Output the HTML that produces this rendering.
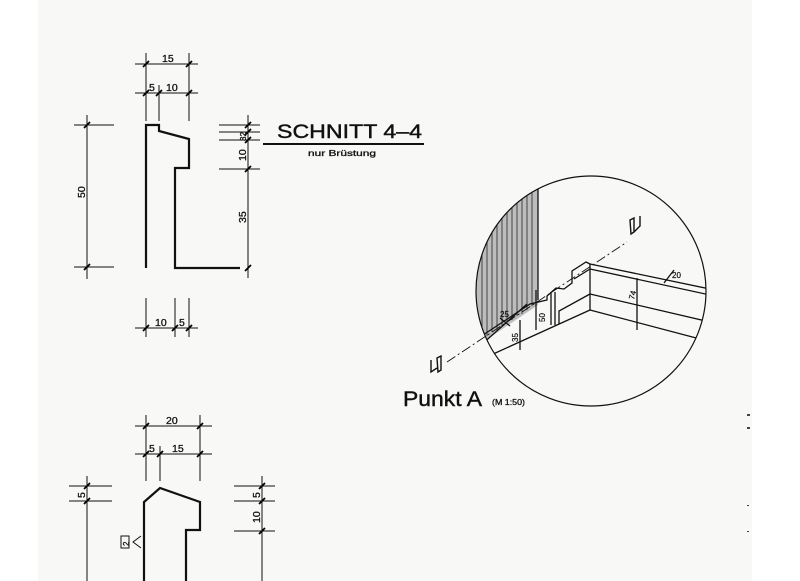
<!DOCTYPE html>
<html><head><meta charset="utf-8"><style>
html,body{margin:0;padding:0;background:#fff}
svg{display:block}
text{font-family:"Liberation Sans",sans-serif;fill:#111}
</style></head><body>
<svg width="800" height="581" viewBox="0 0 800 581" xmlns="http://www.w3.org/2000/svg">
<defs>
<clipPath id="cc"><circle cx="591" cy="291" r="115"/></clipPath>
<g id="tick"><line x1="-3" y1="3" x2="3" y2="-3" stroke="#000" stroke-width="1.8"/></g>
</defs>
<rect x="0" y="0" width="800" height="581" fill="#fff"/>
<rect x="38" y="0" width="714" height="581" fill="#f8f8f7"/>
<g stroke="#111" fill="none" stroke-width="1">
<line x1="135" y1="64" x2="198" y2="64"/>
<line x1="135" y1="93" x2="198" y2="93"/>
<line x1="146" y1="53" x2="146" y2="121"/>
<line x1="159" y1="85" x2="159" y2="121"/>
<line x1="189" y1="53" x2="189" y2="121"/>
<polyline points="146,268 146,125 159,125 159,131 189,139 189,168 175,168 175,268 240,268" stroke-width="2.2"/>
<line x1="87" y1="115" x2="87" y2="279"/>
<line x1="74" y1="125" x2="114" y2="125"/>
<line x1="74" y1="267" x2="114" y2="267"/>
<line x1="248" y1="115" x2="248" y2="278"/>
<line x1="219" y1="125" x2="260" y2="125"/>
<line x1="219" y1="132" x2="260" y2="132"/>
<line x1="219" y1="140" x2="260" y2="140"/>
<line x1="219" y1="169" x2="260" y2="169"/>
<line x1="135" y1="328" x2="198" y2="328"/>
<line x1="146" y1="298" x2="146" y2="337"/>
<line x1="175" y1="298" x2="175" y2="337"/>
<line x1="189" y1="298" x2="189" y2="337"/>
<line x1="263" y1="144" x2="424" y2="144" stroke-width="2"/>
<line x1="135" y1="426" x2="212" y2="426"/>
<line x1="135" y1="454" x2="212" y2="454"/>
<line x1="146" y1="415" x2="146" y2="481"/>
<line x1="160" y1="446" x2="160" y2="481"/>
<line x1="200" y1="415" x2="200" y2="481"/>
<polyline points="144,581 144,502 160,488 200,502 200,530 186,530 186,581" stroke-width="2.2"/>
<line x1="87" y1="476" x2="87" y2="581"/>
<line x1="69" y1="486" x2="112" y2="486"/>
<line x1="69" y1="501" x2="112" y2="501"/>
<line x1="262" y1="476" x2="262" y2="581"/>
<line x1="234" y1="486" x2="275" y2="486"/>
<line x1="234" y1="501" x2="275" y2="501"/>
<line x1="234" y1="531" x2="275" y2="531"/>
<rect x="121" y="536" width="8" height="12" stroke-width="1"/>
<polyline points="141,536 133,542 141,548" stroke-width="1"/>
</g>
<g>
<use href="#tick" x="146" y="64"/><use href="#tick" x="189" y="64"/>
<use href="#tick" x="146" y="93"/><use href="#tick" x="159" y="93"/><use href="#tick" x="189" y="93"/>
<use href="#tick" x="87" y="125"/><use href="#tick" x="87" y="267"/>
<use href="#tick" x="248" y="125"/><use href="#tick" x="248" y="132"/><use href="#tick" x="248" y="140"/><use href="#tick" x="248" y="169"/><use href="#tick" x="248" y="268"/>
<use href="#tick" x="146" y="328"/><use href="#tick" x="175" y="328"/><use href="#tick" x="189" y="328"/>
<use href="#tick" x="146" y="426"/><use href="#tick" x="200" y="426"/>
<use href="#tick" x="146" y="454"/><use href="#tick" x="160" y="454"/><use href="#tick" x="200" y="454"/>
<use href="#tick" x="87" y="486"/><use href="#tick" x="87" y="501"/>
<use href="#tick" x="262" y="486"/><use href="#tick" x="262" y="501"/><use href="#tick" x="262" y="531"/>
</g>
<g font-size="10.5" stroke="#111" stroke-width="0.3">
<text x="162" y="62">15</text>
<text x="149" y="91">5</text><text x="166" y="91">10</text>
<text x="155" y="326">10</text><text x="179" y="326">5</text>
<text x="166" y="424">20</text>
<text x="149" y="452">5</text><text x="172" y="452">15</text>
<text transform="translate(85,198) rotate(-90)">50</text>
<text transform="translate(246,161) rotate(-90)">10</text>
<text transform="translate(246,223) rotate(-90)">35</text>
<text transform="translate(246,141) rotate(-90)" font-size="8">32</text>
<text transform="translate(85,498) rotate(-90)">5</text>
<text transform="translate(260,498) rotate(-90)">5</text>
<text transform="translate(260,523) rotate(-90)">10</text>
<text transform="translate(129,546) rotate(-90)" font-size="8">2</text>
</g>
<text x="277" y="138" font-size="19" textLength="145" lengthAdjust="spacingAndGlyphs" stroke="#111" stroke-width="0.4">SCHNITT  4–4</text>
<text x="308" y="156" font-size="8.5" textLength="68" lengthAdjust="spacingAndGlyphs" stroke="#111" stroke-width="0.3">nur Brüstung</text>
<text x="403" y="406" font-size="21" textLength="79" lengthAdjust="spacingAndGlyphs" stroke="#111" stroke-width="0.4">Punkt A</text>
<text x="492" y="405" font-size="8" textLength="33" lengthAdjust="spacingAndGlyphs" stroke="#111" stroke-width="0.3">(M 1:50)</text>
<g clip-path="url(#cc)">
<polygon points="470,170 538,170 538,305 486,340 470,345" fill="#bdbdbd"/>
<g stroke="#444" stroke-width="1">
<line x1="482" y1="180" x2="482" y2="338"/><line x1="487" y1="180" x2="487" y2="336"/>
<line x1="492" y1="180" x2="492" y2="332"/><line x1="497" y1="180" x2="497" y2="330"/>
<line x1="502" y1="180" x2="502" y2="326"/><line x1="507" y1="180" x2="507" y2="322"/>
<line x1="512" y1="180" x2="512" y2="320"/><line x1="517" y1="180" x2="517" y2="316"/>
<line x1="522" y1="180" x2="522" y2="314"/><line x1="527" y1="180" x2="527" y2="310"/>
<line x1="532" y1="180" x2="532" y2="306"/>
</g>
<g stroke="#111" fill="none" stroke-width="1.3">
<line x1="538" y1="185" x2="538" y2="300"/>
<line x1="590" y1="264" x2="710" y2="289"/>
<line x1="590" y1="269" x2="710" y2="295"/>
<line x1="590" y1="294" x2="710" y2="322"/>
<line x1="590" y1="310" x2="700" y2="339"/>
<line x1="590" y1="264" x2="590" y2="310"/>
<polyline points="590,264 586,262 572,271 572,283 564,289 556,288 547,296 547,300 530,304 480,337"/>
<polyline points="590,269 574,279"/>
<polyline points="590,294 559,311 559,324"/>
<polyline points="590,310 480,360"/>
<polyline points="527,304 480,346"/>
<line x1="551" y1="292" x2="551" y2="325"/>
<line x1="555" y1="292" x2="555" y2="325"/>
<line x1="637" y1="278" x2="637" y2="330"/>
<line x1="520" y1="320" x2="520" y2="350"/>
<line x1="536" y1="290" x2="536" y2="330"/>
<line x1="500" y1="318" x2="510" y2="326"/>
<line x1="664" y1="283" x2="674" y2="270"/>
</g>
<g font-size="8" stroke="#111" stroke-width="0.2">
<text x="500" y="317">25</text>
<text transform="translate(518,342) rotate(-90)">35</text>
<text transform="translate(545,322) rotate(-90)">50</text>
<text transform="translate(634,300) rotate(-75)">74</text>
<text x="672" y="278">20</text>
</g>
</g>
<circle cx="591" cy="291" r="115" fill="none" stroke="#111" stroke-width="1.2"/>
<line x1="447" y1="362" x2="627" y2="242" stroke="#111" stroke-width="0.9" stroke-dasharray="10,3,2,3"/>
<g stroke="#111" fill="none" stroke-width="1.4">
<path d="M630,220 l4,-2 v14 l-3,2 z"/><polyline points="640,216 640,226 634,232"/>
<path d="M437,358 l4,-2 v14 l-3,2 z"/><polyline points="431,360 431,372 437,368"/>
</g>
<g fill="#444"><rect x="747" y="414" width="3" height="2"/><rect x="747" y="427" width="3" height="2"/><rect x="747" y="505" width="2" height="1"/><rect x="747" y="531" width="2" height="1"/></g>
</svg>
</body></html>
